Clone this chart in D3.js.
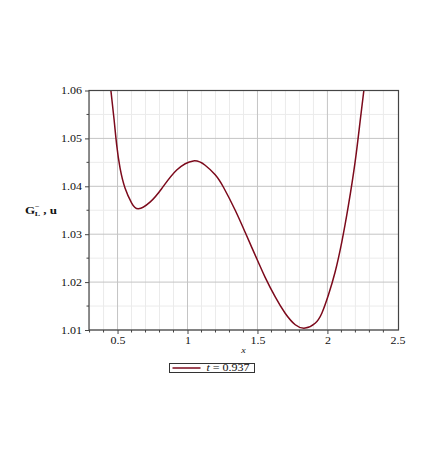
<!DOCTYPE html>
<html>
<head>
<meta charset="utf-8">
<script src="https://cdn.jsdelivr.net/npm/d3@7"></script>
<style>
  body { margin: 0; background: #fff; }
  svg text { font-family: "Liberation Serif", "Times New Roman", serif; fill: #111; }
</style>
</head>
<body>
<div id="chart"></div>
<script>
// curve samples
const xs = [0.451, 0.475, 0.494, 0.518, 0.554, 0.601, 0.649, 0.732, 0.815, 0.923, 1.042, 1.126,
            1.198, 1.257, 1.341, 1.412, 1.460, 1.507, 1.555, 1.627, 1.698, 1.770, 1.841, 1.912,
            1.960, 2.007, 2.055, 2.103, 2.150, 2.198, 2.233, 2.262];
const ys = [1.0604, 1.0540, 1.0486, 1.0438, 1.0396, 1.0365, 1.0353, 1.0367, 1.0395, 1.0434, 1.0453, 1.0444,
            1.0424, 1.0398, 1.0350, 1.0304, 1.0272, 1.0241, 1.0210, 1.0169, 1.0135, 1.0111, 1.0104, 1.0114,
            1.0135, 1.0173, 1.0221, 1.0284, 1.0360, 1.0451, 1.0534, 1.0604];
const xTicks = [0.5, 1, 1.5, 2, 2.5];
const yTicks = [1.01, 1.02, 1.03, 1.04, 1.05, 1.06];
const xMinor = [0.3, 0.4, 0.6, 0.7, 0.8, 0.9, 1.1, 1.2, 1.3, 1.4, 1.6, 1.7, 1.8, 1.9, 2.1, 2.2, 2.3, 2.4];
const yMinor = [1.015, 1.025, 1.035, 1.045, 1.055];
const seriesLabel = "0.937";

const width = 436, height = 458;
const margin = {top: 90.5, right: 37.5, bottom: 128, left: 89};
const squash = 0.78; // the picture's text is a bit flattened

const svg = d3.select('#chart').append('svg')
    .attr('width', width)
    .attr('height', height);

const x = d3.scaleLinear()
    .domain([0.296, 2.508])
    .range([margin.left, width - margin.right]);

const y = d3.scaleLinear()
    .domain([1.01, 1.06])
    .range([height - margin.bottom, margin.top]);

// grid: minor first, then major
const grid = svg.append('g');
grid.selectAll('.vminor').data(xMinor).enter().append('line')
    .attr('x1', d => x(d)).attr('x2', d => x(d))
    .attr('y1', y(1.01)).attr('y2', y(1.06))
    .attr('stroke', '#ebebeb').attr('stroke-width', 1);
grid.selectAll('.hminor').data(yMinor).enter().append('line')
    .attr('x1', margin.left).attr('x2', width - margin.right)
    .attr('y1', d => y(d)).attr('y2', d => y(d))
    .attr('stroke', '#ebebeb').attr('stroke-width', 1);
grid.selectAll('.vmajor').data(xTicks.filter(d => d < 2.5)).enter().append('line')
    .attr('x1', d => x(d)).attr('x2', d => x(d))
    .attr('y1', y(1.01)).attr('y2', y(1.06))
    .attr('stroke', '#c4c4c4').attr('stroke-width', 1);
grid.selectAll('.hmajor').data(yTicks).enter().append('line')
    .attr('x1', margin.left).attr('x2', width - margin.right)
    .attr('y1', d => y(d)).attr('y2', d => y(d))
    .attr('stroke', '#c4c4c4').attr('stroke-width', 1);

// curve, clipped to the plot box
svg.append('clipPath').attr('id', 'clip')
  .append('rect')
    .attr('x', margin.left).attr('y', margin.top)
    .attr('width', width - margin.left - margin.right)
    .attr('height', height - margin.top - margin.bottom);

const pts = xs.map((d, i) => [d, ys[i]]);
const line = d3.line()
    .x(d => x(d[0]))
    .y(d => y(d[1]))
    .curve(d3.curveNatural);

svg.append('path')
    .datum(pts)
    .attr('clip-path', 'url(#clip)')
    .attr('fill', 'none')
    .attr('stroke', '#7c0a1c')
    .attr('stroke-width', 1.5)
    .attr('d', line);

// box
svg.append('rect')
    .attr('x', margin.left).attr('y', margin.top)
    .attr('width', width - margin.left - margin.right)
    .attr('height', height - margin.top - margin.bottom)
    .attr('fill', 'none').attr('stroke', '#444').attr('stroke-width', 1.2);

// axes
const xAxis = d3.axisBottom(x).tickValues(xTicks).tickSize(4).tickPadding(3).tickFormat(d3.format(''));
const yAxis = d3.axisLeft(y).tickValues(yTicks).tickSize(4).tickPadding(3).tickFormat(d3.format('.2f'));

const gx = svg.append('g')
    .attr('transform', `translate(0,${height - margin.bottom})`)
    .call(xAxis);
gx.selectAll('.tick').filter(d => d === 2.5).select('line').remove();
gx.append('g').selectAll('line').data(xMinor).enter().append('line')
    .attr('x1', d => x(d)).attr('x2', d => x(d))
    .attr('y1', 0).attr('y2', 2.5).attr('stroke', '#444');

const gy = svg.append('g')
    .attr('transform', `translate(${margin.left},0)`)
    .call(yAxis);
gy.append('g').selectAll('line').data(yMinor).enter().append('line')
    .attr('x1', 0).attr('x2', -2.5)
    .attr('y1', d => y(d)).attr('y2', d => y(d)).attr('stroke', '#444');

[gx, gy].forEach(g => {
  g.attr('font-family', null);
  g.select('.domain').remove();
  g.selectAll('.tick line').attr('stroke', '#444');
  g.selectAll('.tick text').style('font-size', '12px').attr('fill', '#111');
});

// flatten tick labels around their own anchor
gx.selectAll('.tick text')
    .attr('y', null).attr('dy', '0.71em')
    .attr('transform', `translate(0,7) scale(1,${squash})`);
gy.selectAll('.tick text')
    .attr('x', null).attr('dy', '0.32em')
    .attr('transform', `translate(-7,0) scale(1,${squash})`);

// axis titles
svg.append('text')
    .attr('transform', `translate(${x(1.4)},353) scale(1,${squash})`)
    .attr('text-anchor', 'middle')
    .style('font-size', '10px').style('font-style', 'italic')
    .text('x');

const ylab = svg.append('text')
    .attr('transform', `translate(25,214) scale(1,${squash})`)
    .style('font-size', '13px').style('font-weight', 'bold');
ylab.append('tspan').text('G');
ylab.append('tspan').attr('dy', -6).attr('dx', 0).style('font-size', '8px').text('−');
ylab.append('tspan').attr('dy', 9).attr('dx', -5).style('font-size', '8px').text('L');
ylab.append('tspan').attr('dy', -3).text(' , u');

// legend
const lg = svg.append('g').attr('transform', 'translate(169.5,363.5)');
lg.append('rect').attr('width', 85).attr('height', 9)
    .attr('fill', '#fff').attr('stroke', '#333').attr('stroke-width', 1);
lg.append('line').attr('x1', 3).attr('x2', 31).attr('y1', 4.5).attr('y2', 4.5)
    .attr('stroke', '#7c0a1c').attr('stroke-width', 1.5);
const lt = lg.append('text')
    .attr('transform', `translate(37,7.8) scale(1,${squash})`)
    .style('font-size', '12px');
lt.append('tspan').style('font-style', 'italic').text('t');
lt.append('tspan').text(' = ' + seriesLabel);
</script>
</body>
</html>
